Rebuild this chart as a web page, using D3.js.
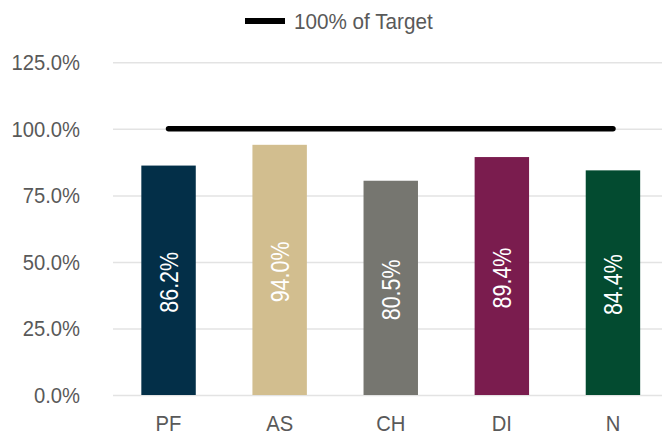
<!DOCTYPE html>
<html>
<head>
<meta charset="utf-8">
<script src="https://cdn.jsdelivr.net/npm/d3@7"></script>
<style>
  body { margin: 0; background: #fff; }
  text { font-family: "Liberation Sans", Arial, sans-serif; }
</style>
</head>
<body>
<div id="chart"></div>
<script>
  const width = 662, height = 432;

  // data
  const categories = ["PF", "AS", "CH", "DI", "N"];
  const values = [0.862, 0.940, 0.805, 0.894, 0.844];
  const target = [1, 1, 1, 1, 1];
  const colors = ["#032f48", "#d2be8f", "#767670", "#7a1c4e", "#034b30"];
  const yTicks = [0, 0.25, 0.5, 0.75, 1.0, 1.25];

  const pct = d3.format('.1%');
  const squeeze = 0.92; // the source font runs a bit narrow

  const svg = d3.select('#chart')
    .append('svg')
    .attr('width', width)
    .attr('height', height);

  const x = d3.scaleBand().domain(categories).range([113, 668.5])
    .paddingInner(0.51).paddingOuter(0.255);
  const y = d3.scaleLinear().domain([0, 1.25]).range([395, 62.3]);

  // gridlines + y labels
  const yAxis = svg.append('g')
    .attr('transform', 'translate(113,0)')
    .call(d3.axisLeft(y).tickValues(yTicks).tickSize(-(width - 113)).tickFormat(pct));
  yAxis.select('.domain').remove();
  yAxis.selectAll('.tick line').attr('stroke', '#e3e3e3').attr('stroke-width', 1.5);
  yAxis.selectAll('.tick text')
    .attr('x', null)
    .attr('dy', null)
    .attr('transform', `translate(-33,7.5) scale(${squeeze},1)`)
    .attr('fill', '#595959')
    .style('font-size', '22px');

  // bars
  svg.append('g')
    .selectAll('rect')
    .data(values)
    .join('rect')
    .attr('x', (d, i) => x(categories[i]))
    .attr('width', x.bandwidth())
    .attr('y', d => y(d))
    .attr('height', d => y(0) - y(d))
    .attr('fill', (d, i) => colors[i]);

  // labels inside bars
  svg.append('g')
    .selectAll('text')
    .data(values)
    .join('text')
    .attr('transform', (d, i) => `translate(${x(categories[i]) + x.bandwidth() / 2},${(y(0) + y(d)) / 2 + 2}) rotate(-90) scale(0.81,1)`)
    .attr('text-anchor', 'middle')
    .attr('dy', '0.35em')
    .attr('fill', '#fff')
    .style('font-size', '26.5px')
    .text(d => pct(d));

  // x labels
  svg.append('g')
    .selectAll('text')
    .data(categories)
    .join('text')
    .attr('transform', d => `translate(${x(d) + x.bandwidth() / 2},431) scale(${squeeze},1)`)
    .attr('text-anchor', 'middle')
    .attr('fill', '#595959')
    .style('font-size', '22px')
    .text(d => d);

  // target line
  const line = d3.line()
    .x((d, i) => x(categories[i]) + x.bandwidth() / 2)
    .y(d => y(d));
  svg.append('path')
    .datum(target)
    .attr('d', line)
    .attr('fill', 'none')
    .attr('stroke', '#000')
    .attr('stroke-width', 5.5)
    .attr('stroke-linecap', 'round');

  // legend
  const lg = svg.append('g');
  lg.append('line')
    .attr('x1', 245).attr('x2', 285)
    .attr('y1', 21).attr('y2', 21)
    .attr('stroke', '#000').attr('stroke-width', 6);
  lg.append('text')
    .attr('transform', `translate(294,28.5) scale(0.94,1)`)
    .attr('fill', '#595959')
    .style('font-size', '22px')
    .text('100% of Target');
</script>
</body>
</html>
